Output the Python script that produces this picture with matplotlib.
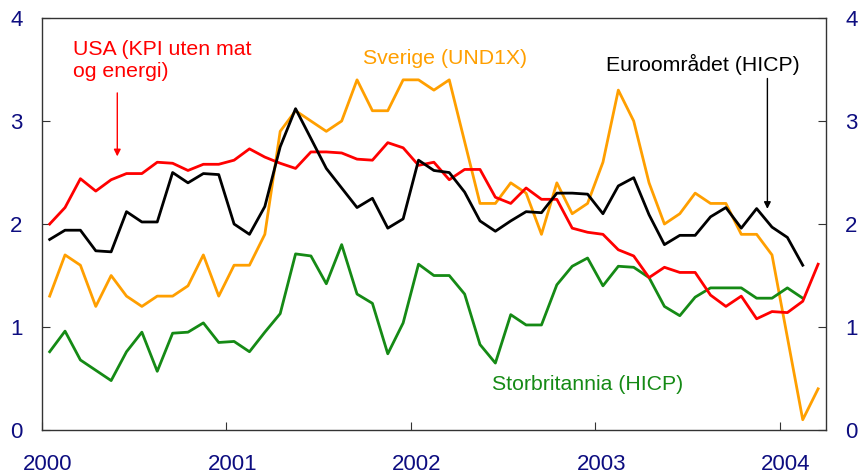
import numpy as np
import matplotlib
matplotlib.use("Agg")
import matplotlib.pyplot as plt
import matplotlib.transforms as mtransforms

plt.rcParams['font.family'] = ['Liberation Sans', 'DejaVu Sans']

# monthly values, Jan 2000 - Mar 2004
usa = [2.0, 2.16, 2.44, 2.32, 2.43, 2.49, 2.49, 2.60, 2.59, 2.52, 2.58, 2.58,
       2.62, 2.73, 2.65, 2.59, 2.54, 2.70, 2.70, 2.69, 2.63, 2.62, 2.79, 2.74,
       2.57, 2.60, 2.43, 2.53, 2.53, 2.26, 2.20, 2.35, 2.24, 2.24, 1.96, 1.92,
       1.90, 1.75, 1.69, 1.48, 1.58, 1.53, 1.53, 1.31, 1.20, 1.30, 1.08, 1.15,
       1.14, 1.25, 1.61]
euro = [1.85, 1.94, 1.94, 1.74, 1.73, 2.12, 2.02, 2.02, 2.50, 2.40, 2.49, 2.48,
        2.00, 1.90, 2.17, 2.75, 3.12, 2.83, 2.54, 2.35, 2.16, 2.25, 1.96, 2.05,
        2.62, 2.52, 2.50, 2.31, 2.03, 1.93, 2.03, 2.12, 2.11, 2.30, 2.30, 2.29,
        2.10, 2.37, 2.45, 2.09, 1.80, 1.89, 1.89, 2.07, 2.16, 1.96, 2.15, 1.97,
        1.87, 1.60]
sverige = [1.3, 1.7, 1.6, 1.2, 1.5, 1.3, 1.2, 1.3, 1.3, 1.4, 1.7, 1.3,
           1.6, 1.6, 1.9, 2.9, 3.1, 3.0, 2.9, 3.0, 3.4, 3.1, 3.1, 3.4,
           3.4, 3.3, 3.4, 2.8, 2.2, 2.2, 2.4, 2.3, 1.9, 2.4, 2.1, 2.2,
           2.6, 3.3, 3.0, 2.4, 2.0, 2.1, 2.3, 2.2, 2.2, 1.9, 1.9, 1.7,
           0.9, 0.1, 0.4]
uk = [0.76, 0.96, 0.68, 0.58, 0.48, 0.76, 0.95, 0.57, 0.94, 0.95, 1.04, 0.85,
      0.86, 0.76, 0.95, 1.13, 1.71, 1.69, 1.42, 1.80, 1.32, 1.23, 0.74, 1.04,
      1.61, 1.50, 1.50, 1.32, 0.83, 0.65, 1.12, 1.02, 1.02, 1.41, 1.59, 1.67,
      1.40, 1.59, 1.58, 1.48, 1.20, 1.11, 1.29, 1.38, 1.38, 1.38, 1.28, 1.28,
      1.38, 1.28]
years = ['2000', '2001', '2002', '2003', '2004']

navy = '#0d0d80'
fig = plt.figure(figsize=(8.62, 4.76), dpi=100)
ax = fig.add_axes([0.0487, 0.0966, 0.9093, 0.8655])

def xs(vals):
    return np.arange(len(vals)) + 0.5

ax.plot(xs(sverige), sverige, color='#ff9f00', lw=2.0)
ax.plot(xs(uk), uk, color='#158a15', lw=2.0)
ax.plot(xs(usa), usa, color='#ff0000', lw=2.0)
ax.plot(xs(euro), euro, color='black', lw=2.0)

ax.set_xlim(0, 51)
ax.set_ylim(0, 4)
ax.set_xticks([0, 12, 24, 36, 48])
ax.set_xticklabels(years)
ax.set_yticks([0, 1, 2, 3, 4])
ax.tick_params(axis='x', direction='in', length=6, pad=17.5, labelsize=16, labelcolor=navy, color='#333333')
ax.tick_params(axis='y', direction='in', length=6, pad=14, labelsize=16, labelcolor=navy,
               right=True, labelright=True, color='#333333')
for s in ax.spines.values():
    s.set_color('#333333')
    s.set_linewidth(1.0)

# year labels sit a little right of the tick
shift = mtransforms.ScaledTranslation(6 / 100, 0, fig.dpi_scale_trans)
for lab in ax.get_xticklabels():
    lab.set_transform(lab.get_transform() + shift)

fs = 15.3
ax.text(2.0, 3.79, 'USA (KPI uten mat\nog energi)', color='#ff0000', fontsize=fs,
        va='top', ha='left', linespacing=1.25)
ax.annotate('', xy=(4.9, 2.63), xytext=(4.9, 3.30),
            arrowprops=dict(arrowstyle='-|>', color='#ff0000', lw=1.0, mutation_scale=10))
ax.text(20.9, 3.61, 'Sverige (UND1X)', color='#ff9f00', fontsize=fs, va='center', ha='left')
ax.text(36.7, 3.55, 'Euroområdet (HICP)', color='black', fontsize=fs, va='center', ha='left')
ax.annotate('', xy=(47.2, 2.12), xytext=(47.2, 3.44),
            arrowprops=dict(arrowstyle='-|>', color='black', lw=1.0, mutation_scale=10))
ax.text(29.3, 0.44, 'Storbritannia (HICP)', color='#158a15', fontsize=fs, va='center', ha='left')

fig.savefig('out.png', dpi=100)
